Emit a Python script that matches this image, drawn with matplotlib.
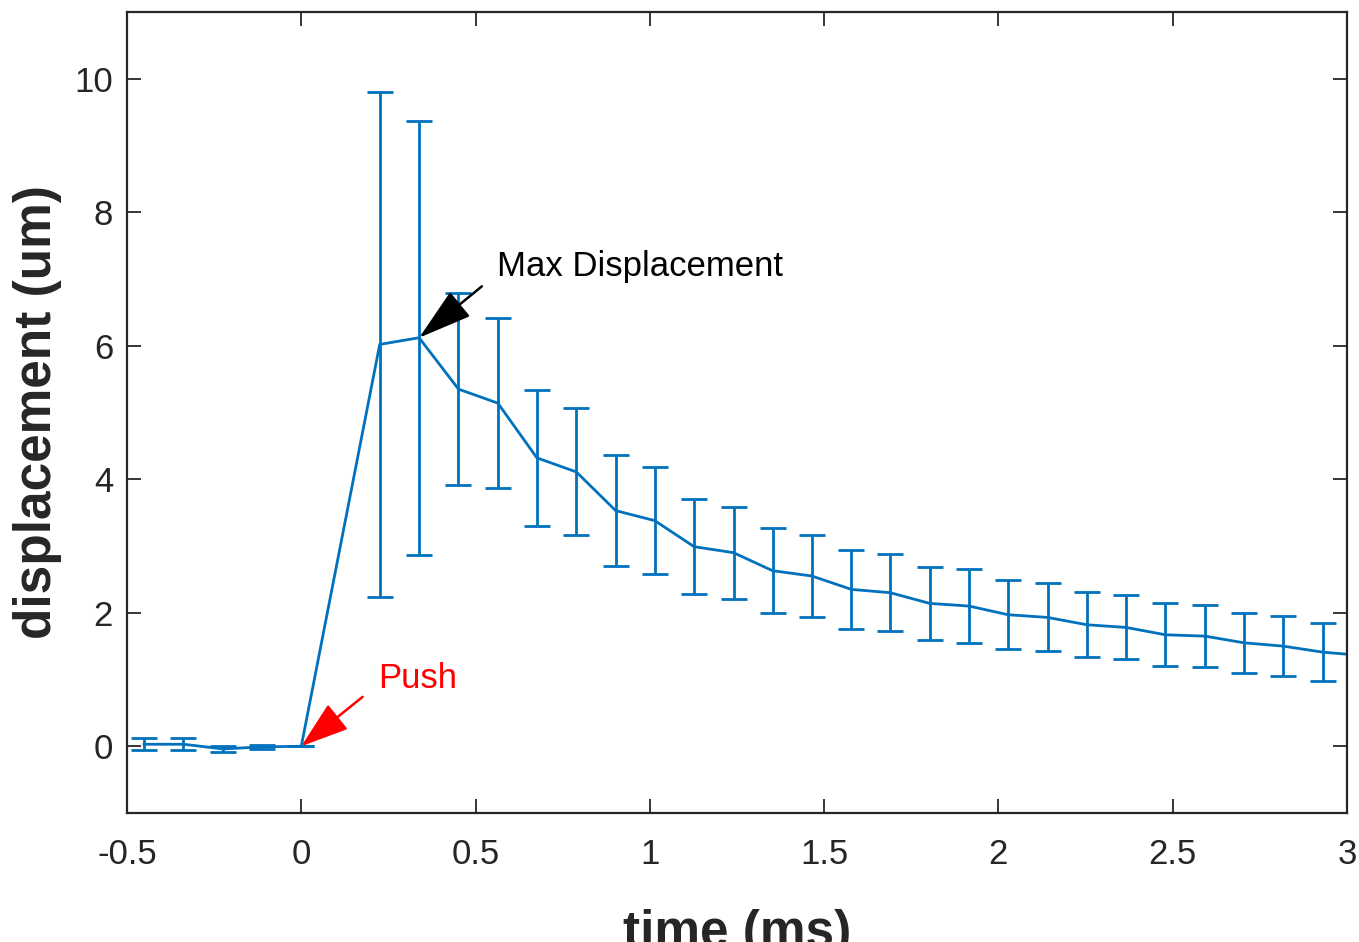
import matplotlib.pyplot as plt

# time axis (ms), one sample every ~0.113 ms; no sample during the push itself
time_ms = [-0.451, -0.338, -0.225, -0.113, 0.0,
           0.225, 0.338, 0.451, 0.564, 0.676, 0.789, 0.902, 1.014, 1.127,
           1.240, 1.352, 1.465, 1.578, 1.690, 1.803, 1.916, 2.028, 2.141,
           2.254, 2.366, 2.479, 2.592, 2.704, 2.817, 2.930, 3.043]

displacement = [0.03, 0.03, -0.04, -0.01, 0.0,
                6.02, 6.12, 5.35, 5.14, 4.32, 4.11, 3.53, 3.38, 2.99,
                2.90, 2.63, 2.55, 2.35, 2.30, 2.14, 2.10, 1.97, 1.93,
                1.82, 1.78, 1.67, 1.65, 1.55, 1.50, 1.41, 1.36]

std_dev = [0.09, 0.09, 0.04, 0.035, 0.0,
           3.78, 3.25, 1.44, 1.27, 1.02, 0.95, 0.83, 0.80, 0.71,
           0.69, 0.64, 0.62, 0.59, 0.58, 0.55, 0.55, 0.52, 0.51,
           0.49, 0.48, 0.47, 0.46, 0.45, 0.45, 0.43, 0.43]

xticks = [-0.5, 0, 0.5, 1, 1.5, 2, 2.5, 3]
xtick_labels = ['-0.5', '0', '0.5', '1', '1.5', '2', '2.5', '3']
yticks = [0, 2, 4, 6, 8, 10]

max_tip = (0.338, 6.12)
max_tail = (0.518, 6.89)
push_tip = (0.0, 0.0)
push_tail = (0.176, 0.74)

blue = '#0072BD'
axcol = '#262626'

plt.rcParams['font.family'] = ['Liberation Sans', 'DejaVu Sans']


def main():
    fig = plt.figure(figsize=(13.59, 9.42), dpi=100)
    ax = fig.add_axes([127 / 1359, 1 - 813 / 942, 1220 / 1359, 801 / 942])

    ax.errorbar(time_ms, displacement, yerr=std_dev, color=blue, lw=2.0,
                elinewidth=2.0, capsize=9.7, capthick=2.0)

    ax.set_xlim(-0.5, 3)
    ax.set_ylim(-1, 11)
    ax.set_xticks(xticks)
    ax.set_xticklabels(xtick_labels)
    ax.set_yticks(yticks)
    ax.tick_params(direction='in', top=True, right=True, length=10, width=1.3,
                   labelsize=25, colors=axcol)
    ax.tick_params(axis='x', pad=18)
    ax.tick_params(axis='y', pad=10)
    for s in ax.spines.values():
        s.set_color(axcol)
        s.set_linewidth(1.6)

    ax.set_ylabel('displacement (um)', fontsize=37, fontweight='bold', color=axcol)
    ax.yaxis.set_label_coords(-0.053, 0.5)
    ax.set_xlabel('time (ms)', fontsize=37, fontweight='bold', color=axcol, va='top')
    ax.xaxis.set_label_coords(0.5, -0.12)

    ax.annotate('', xy=max_tip, xytext=max_tail,
                arrowprops=dict(arrowstyle='-|>,head_length=1.7,head_width=0.5',
                                mutation_scale=20, color='black', lw=1.8,
                                shrinkA=0, shrinkB=0))
    ax.text(0.561, 7.19, 'Max Displacement', fontsize=25, color='black',
            ha='left', va='center')

    ax.annotate('', xy=push_tip, xytext=push_tail,
                arrowprops=dict(arrowstyle='-|>,head_length=1.5,head_width=0.5',
                                mutation_scale=20, color='red', lw=1.8,
                                shrinkA=0, shrinkB=0))
    ax.text(0.220, 1.02, 'Push', fontsize=25, color='red', ha='left', va='center')

    fig.savefig('out.png', dpi=100)


if __name__ == "__main__":
    main()
